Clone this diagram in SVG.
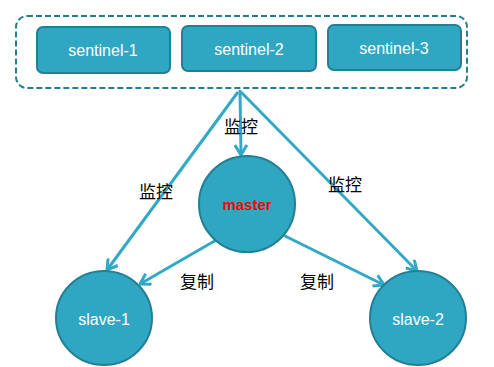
<svg xmlns="http://www.w3.org/2000/svg" width="494" height="367" viewBox="0 0 494 367">
  <style>
    .box { fill: #2fa7c3; stroke: #237f94; stroke-width: 2; }
    .node { fill: #2fa7c3; stroke: #237f94; stroke-width: 2; }
    .lbl { font-family: "Liberation Sans", "Open Sans", sans-serif; font-size: 16px; fill: #ffffff; text-anchor: middle; dominant-baseline: central; }
    .cn { font-family: "Noto Sans CJK SC", sans-serif; font-size: 17px; fill: #000000; text-anchor: middle; dominant-baseline: central; }
    .edge { stroke: #31a9c6; stroke-width: 3; fill: none; marker-end: url(#arrow); }
  </style>
  <defs>
    <marker id="arrow" viewBox="0 0 12 14" refX="11" refY="7" markerWidth="12" markerHeight="14" markerUnits="userSpaceOnUse" orient="auto">
      <path d="M1,1 L11,7 L1,13" fill="none" stroke="#31a9c6" stroke-width="3" stroke-linejoin="miter"/>
    </marker>
  </defs>

  <!-- sentinel group frame -->
  <rect x="16" y="16" width="451" height="72" rx="11" ry="11" fill="none" stroke="#237f94" stroke-width="2" stroke-dasharray="6,3"/>

  <g id="sentinel-1">
    <rect class="box" x="37" y="27" width="133" height="46" rx="6"/>
    <text class="lbl" x="103" y="50">sentinel-1</text>
  </g>
  <g id="sentinel-2">
    <rect class="box" x="182" y="26" width="134" height="45" rx="6"/>
    <text class="lbl" x="249" y="49">sentinel-2</text>
  </g>
  <g id="sentinel-3">
    <rect class="box" x="328" y="25" width="133" height="45" rx="6"/>
    <text class="lbl" x="394" y="48">sentinel-3</text>
  </g>

  <g id="connectors">
    <line class="edge" x1="238" y1="92" x2="107" y2="270"/>
    <line class="edge" x1="240" y1="90" x2="241" y2="155"/>
    <line class="edge" x1="241" y1="92" x2="417" y2="271"/>
    <line class="edge" x1="218" y1="239" x2="140" y2="284"/>
    <line class="edge" x1="283" y1="235" x2="384" y2="285"/>
    <text class="cn" x="241" y="125">监控</text>
    <text class="cn" x="156" y="190">监控</text>
    <text class="cn" x="345" y="183">监控</text>
    <text class="cn" x="197" y="280">复制</text>
    <text class="cn" x="317" y="280">复制</text>
  </g>

  <g id="master">
    <ellipse class="node" cx="247" cy="204" rx="48" ry="48"/>
    <text x="247" y="204" font-family="Liberation Sans, Arial, sans-serif" font-size="15" font-weight="bold" fill="#ff0000" text-anchor="middle" dominant-baseline="central">master</text>
  </g>
  <g id="slave-1">
    <ellipse class="node" cx="104" cy="318" rx="48" ry="47"/>
    <text class="lbl" x="104" y="319">slave-1</text>
  </g>
  <g id="slave-2">
    <ellipse class="node" cx="418" cy="318" rx="48" ry="47"/>
    <text class="lbl" x="418" y="319">slave-2</text>
  </g>
</svg>
